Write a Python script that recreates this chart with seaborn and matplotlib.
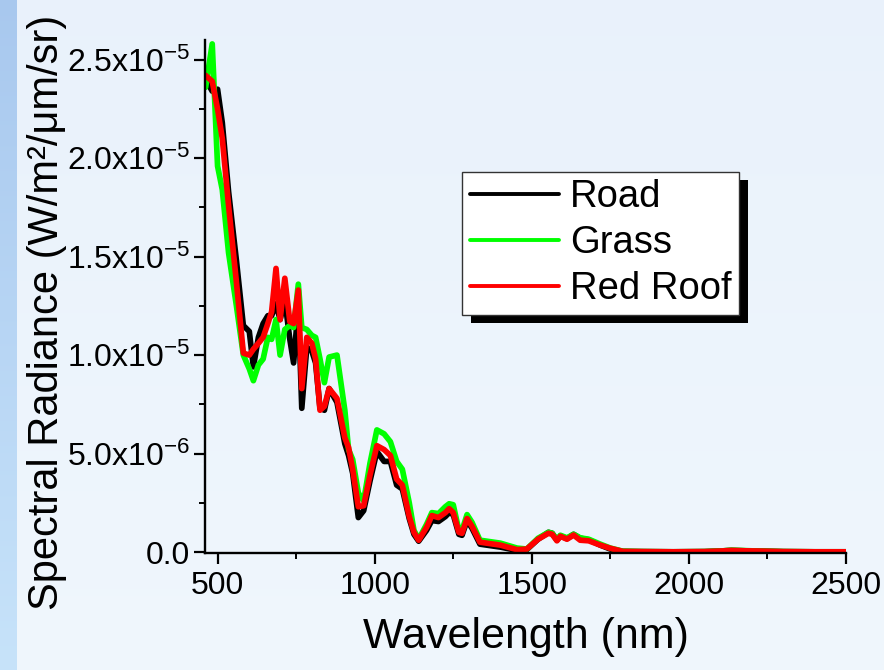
import numpy as np
import pandas as pd
import matplotlib
matplotlib.use("Agg")
import matplotlib.pyplot as plt
from matplotlib.patches import Rectangle
from matplotlib.transforms import IdentityTransform
from matplotlib.ticker import MultipleLocator
import seaborn as sns

# wavelength grid (nm)
wavelength = [462, 483, 500, 515, 535, 560, 582, 601, 614, 630, 645, 660, 672, 686, 699,
              714, 730, 742, 757, 768, 784, 800, 812, 826, 840, 855, 880, 905, 917, 930,
              948, 965, 985, 1007, 1030, 1050, 1070, 1088, 1110, 1125, 1140, 1165, 1182,
              1203, 1225, 1237, 1250, 1268, 1278, 1294, 1310, 1335, 1400, 1453, 1484, 1520,
              1553, 1565, 1580, 1591, 1612, 1633, 1654, 1681, 1718, 1750, 1790, 1850, 1950,
              2050, 2100, 2135, 2180, 2220, 2300, 2400, 2500]

# radiance in units of 1e-6 W/m2/um/sr
road = [24.0, 23.4, 23.5, 21.8, 18.3, 14.8, 11.5, 11.2, 9.4, 10.9, 11.6, 12.0, 12.0, 12.6, 11.8,
        12.8, 10.8, 9.6, 12.5, 7.3, 10.4, 10.2, 9.6, 7.3, 7.2, 8.3, 7.6, 5.5, 4.9, 4.0,
        1.75, 2.1, 3.6, 5.1, 4.6, 4.6, 3.4, 3.2, 1.7, 0.9, 0.55, 1.1, 1.6,
        1.55, 1.8, 2.0, 1.9, 0.9, 0.85, 1.6, 1.2, 0.4, 0.25, 0.08, 0.12, 0.65,
        1.0, 0.95, 0.6, 0.82, 0.68, 0.9, 0.7, 0.62, 0.35, 0.15, 0.03, 0.02, 0.01,
        0.02, 0.05, 0.08, 0.06, 0.05, 0.02, 0.01, 0.01]
grass = [23.6, 25.8, 19.6, 18.4, 15.2, 12.5, 10.0, 9.3, 8.7, 9.5, 9.8, 10.9, 10.8, 11.8, 10.0,
         11.3, 11.5, 11.4, 13.6, 11.4, 11.3, 11.0, 10.9, 9.8, 8.6, 9.9, 10.0, 7.2, 5.2, 4.7,
         3.0, 2.6, 4.5, 6.2, 6.0, 5.6, 4.6, 4.2, 2.5, 1.1, 0.65, 1.4, 2.0,
         1.95, 2.3, 2.45, 2.4, 1.1, 1.1, 1.9, 1.5, 0.6, 0.45, 0.2, 0.15, 0.7,
         1.0, 0.95, 0.62, 0.85, 0.72, 0.9, 0.72, 0.65, 0.4, 0.2, 0.04, 0.02, 0.01,
         0.02, 0.05, 0.09, 0.07, 0.05, 0.02, 0.01, 0.01]
red_roof = [24.2, 23.9, 22.5, 21.0, 17.6, 13.7, 10.1, 10.0, 10.3, 10.6, 10.9, 11.6, 12.2, 14.4, 11.8,
            13.9, 11.7, 11.6, 13.3, 8.3, 10.9, 10.6, 9.8, 7.2, 7.4, 8.3, 7.8, 5.8, 5.3, 4.2,
            2.3, 2.35, 3.9, 5.4, 5.2, 4.9, 3.7, 3.4, 1.8, 1.0, 0.6, 1.25, 1.85,
            1.75, 2.0, 2.2, 2.0, 1.0, 0.95, 1.7, 1.3, 0.5, 0.35, 0.12, 0.15, 0.65,
            0.95, 0.9, 0.57, 0.8, 0.65, 0.86, 0.6, 0.57, 0.35, 0.19, 0.03, 0.02, 0.01,
            0.02, 0.05, 0.08, 0.06, 0.05, 0.02, 0.01, 0.01]

series_names = ["Road", "Grass", "Red Roof"]
series_colors = ["#000000", "#00ff00", "#ff0000"]

x_ticks = [500, 1000, 1500, 2000, 2500]
y_ticks = [0.0, 5e-6, 1e-5, 1.5e-5, 2e-5, 2.5e-5]
y_ticklabels = ["0.0", r"5.0x10$^{\mathregular{-6}}$", r"1.0x10$^{\mathregular{-5}}$",
                r"1.5x10$^{\mathregular{-5}}$", r"2.0x10$^{\mathregular{-5}}$",
                r"2.5x10$^{\mathregular{-5}}$"]

df = pd.concat([
    pd.DataFrame({"wl": wavelength, "rad": np.array(v) * 1e-6, "kind": n})
    for n, v in zip(series_names, [road, grass, red_roof])
])

sns.set_style("ticks")
plt.rcParams["font.family"] = ["Liberation Sans", "DejaVu Sans"]
plt.rcParams["mathtext.fontset"] = "custom"
plt.rcParams["mathtext.rm"] = "Liberation Sans"
plt.rcParams["mathtext.it"] = "Liberation Sans:italic"
plt.rcParams["mathtext.bf"] = "Liberation Sans:bold"
plt.rcParams["text.color"] = "black"
plt.rcParams["axes.labelcolor"] = "black"
plt.rcParams["xtick.color"] = "black"
plt.rcParams["ytick.color"] = "black"

W, H = 884, 670
fig = plt.figure(figsize=(W / 100, H / 100), dpi=100)

# background gradient
bg = fig.add_axes([0, 0, 1, 1], zorder=-10)
bg.set_axis_off()
t = np.linspace(0, 1, H)[:, None]
main_top, main_bot = np.array([0.915, 0.948, 0.985]), np.array([0.94, 0.967, 0.992])
strip_top, strip_bot = np.array([0.66, 0.785, 0.935]), np.array([0.78, 0.89, 0.98])
img = np.zeros((H, W, 3))
img[:, :, :] = (main_top + (main_bot - main_top) * t)[:, None, :]
img[:, :17, :] = (strip_top + (strip_bot - strip_top) * t)[:, None, :]
bg.imshow(img, aspect="auto", extent=[0, 1, 0, 1])

ax = fig.add_axes([205 / W, (H - 553) / H, 641 / W, 513 / H])
ax.set_facecolor("none")

sns.lineplot(data=df, x="wl", y="rad", hue="kind", hue_order=series_names,
             palette=series_colors, linewidth=4.1, estimator=None, sort=False,
             ax=ax, legend=False)

ax.set_xlim(460, 2500)
ax.set_ylim(-0.05e-6, 26.0e-6)
ax.set_xticks(x_ticks)
ax.set_yticks(y_ticks, y_ticklabels)
ax.xaxis.set_minor_locator(MultipleLocator(250))
ax.yaxis.set_minor_locator(MultipleLocator(2.5e-6))
ax.tick_params(which="major", length=8, width=1.6, labelsize=23, color="black")
ax.tick_params(axis="x", which="major", pad=5)
ax.tick_params(axis="y", which="major", pad=3)
ax.tick_params(which="minor", length=4.5, width=1.4, color="black")
for s in ["top", "right"]:
    ax.spines[s].set_visible(False)
for s in ["left", "bottom"]:
    ax.spines[s].set_linewidth(1.7)
    ax.spines[s].set_color("black")

ax.set_xlabel("Wavelength (nm)", fontsize=31)
ax.set_ylabel("Spectral Radiance (W/m²/μm/sr)", fontsize=30)
ax.xaxis.set_label_coords(0.5, -0.125)
ax.yaxis.set_label_coords(-0.215, 0.47)

handles = [plt.Line2D([], [], color=c, lw=2.8) for c in series_colors]
leg = ax.legend(handles, series_names, loc="upper left", bbox_to_anchor=(0.401, 0.743),
                borderaxespad=0, fontsize=27.5, frameon=True, fancybox=False,
                handlelength=2.35, handletextpad=0.27, labelspacing=0.26, borderpad=0.2)
leg.get_frame().set_edgecolor("#333333")
leg.get_frame().set_linewidth(1.0)
leg.get_frame().set_facecolor("white")
leg.get_frame().set_alpha(1)

fig.canvas.draw()
bb = leg.get_frame().get_window_extent()
shadow = Rectangle((bb.x0 + 8.5, bb.y0 - 8), bb.width, bb.height, transform=IdentityTransform(),
                   facecolor="black", edgecolor="none", zorder=leg.get_zorder() - 0.1, clip_on=False)
ax.add_artist(shadow)

fig.savefig("out.png", dpi=100)
